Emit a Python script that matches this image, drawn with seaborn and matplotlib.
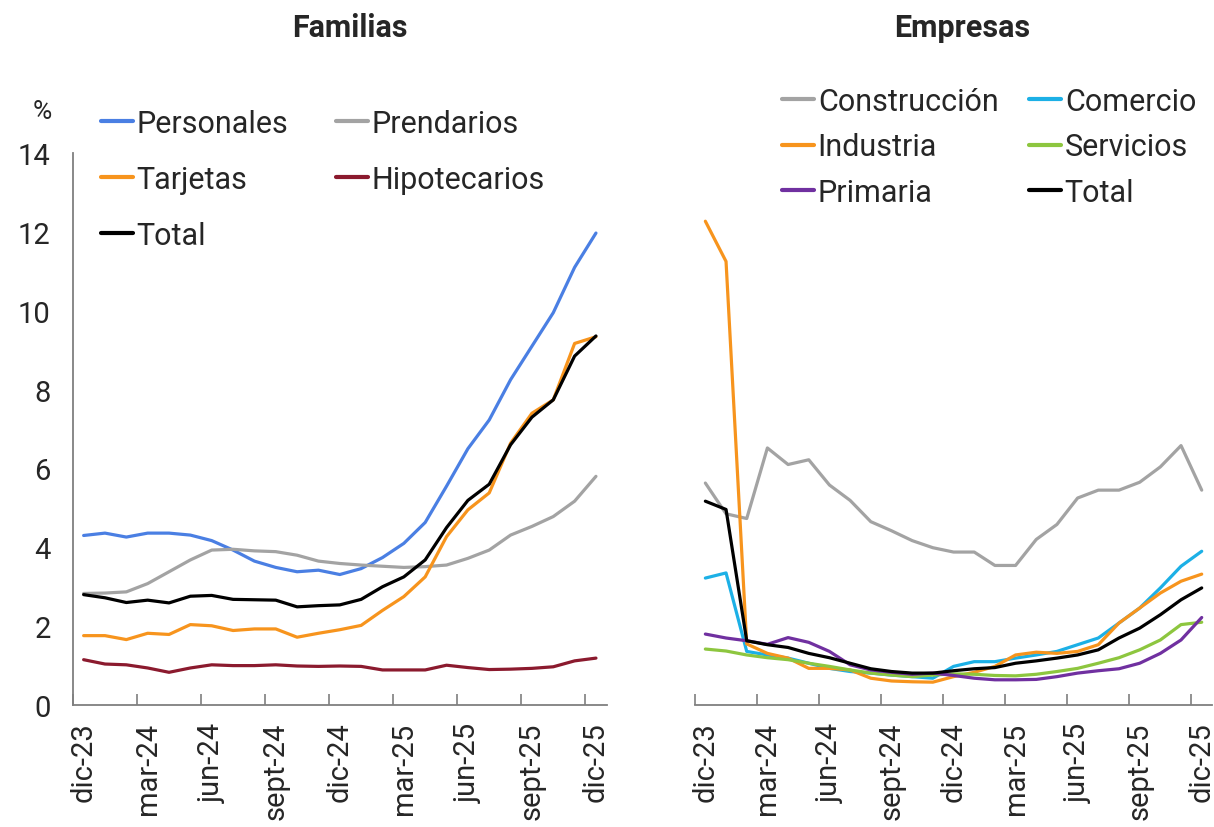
#!/usr/bin/env python3
"""Irregularidad de cartera: Familias y Empresas."""

from __future__ import annotations

import matplotlib

matplotlib.use("Agg")
import matplotlib.pyplot as plt
import pandas as pd
import seaborn as sns
from matplotlib.lines import Line2D
from matplotlib.ticker import FixedLocator


MONTHS = [
    "dic-23", "ene-24", "feb-24", "mar-24", "abr-24", "may-24", "jun-24",
    "jul-24", "ago-24", "sept-24", "oct-24", "nov-24", "dic-24", "ene-25",
    "feb-25", "mar-25", "abr-25", "may-25", "jun-25", "jul-25", "ago-25",
    "sept-25", "oct-25", "nov-25", "dic-25",
]
TICK_LABELS = ["dic-23", "mar-24", "jun-24", "sept-24", "dic-24",
               "mar-25", "jun-25", "sept-25", "dic-25"]

# Familias
personales = [4.30, 4.36, 4.26, 4.36, 4.36, 4.31, 4.17, 3.93, 3.65, 3.49,
              3.38, 3.42, 3.31, 3.46, 3.74, 4.10, 4.63, 5.55, 6.50, 7.23,
              8.25, 9.10, 9.95, 11.10, 11.97]
prendarios = [2.83, 2.84, 2.87, 3.08, 3.38, 3.68, 3.93, 3.95, 3.91, 3.89,
              3.80, 3.65, 3.59, 3.55, 3.52, 3.49, 3.51, 3.55, 3.72, 3.93,
              4.31, 4.53, 4.78, 5.17, 5.80]
tarjetas = [1.76, 1.76, 1.66, 1.82, 1.79, 2.04, 2.01, 1.89, 1.93, 1.93,
            1.72, 1.82, 1.91, 2.02, 2.40, 2.75, 3.25, 4.27, 4.95, 5.38,
            6.64, 7.40, 7.74, 9.17, 9.34]
hipotecarios = [1.15, 1.04, 1.02, 0.94, 0.83, 0.94, 1.02, 1.00, 1.00, 1.02,
                0.99, 0.98, 0.99, 0.98, 0.89, 0.89, 0.89, 1.01, 0.95, 0.90,
                0.91, 0.93, 0.97, 1.12, 1.19]
total_fam = [2.80, 2.72, 2.60, 2.66, 2.59, 2.76, 2.78, 2.68, 2.67, 2.66,
             2.49, 2.52, 2.54, 2.68, 3.00, 3.25, 3.68, 4.50, 5.19, 5.60,
             6.60, 7.30, 7.74, 8.85, 9.36]

# Empresas
construccion = [5.63, 4.85, 4.73, 6.52, 6.10, 6.22, 5.58, 5.19, 4.65, 4.42,
                4.17, 3.99, 3.88, 3.88, 3.54, 3.54, 4.20, 4.58, 5.25, 5.45,
                5.45, 5.65, 6.04, 6.58, 5.45]
comercio = [3.22, 3.35, 1.36, 1.27, 1.19, 1.06, 0.93, 0.85, 0.81, 0.76,
            0.72, 0.68, 0.98, 1.10, 1.10, 1.19, 1.27, 1.36, 1.53, 1.70,
            2.08, 2.46, 2.97, 3.52, 3.90]
industria = [12.27, 11.25, 1.55, 1.31, 1.19, 0.93, 0.93, 0.89, 0.68, 0.61,
             0.59, 0.58, 0.72, 0.83, 0.98, 1.27, 1.34, 1.31, 1.36, 1.53,
             2.08, 2.46, 2.84, 3.14, 3.32]
servicios = [1.42, 1.37, 1.27, 1.20, 1.15, 1.06, 0.98, 0.89, 0.81, 0.76,
             0.72, 0.76, 0.79, 0.78, 0.75, 0.74, 0.78, 0.85, 0.93, 1.06,
             1.20, 1.40, 1.65, 2.04, 2.10]
primaria = [1.80, 1.70, 1.63, 1.54, 1.71, 1.59, 1.36, 1.02, 0.89, 0.83,
            0.78, 0.81, 0.75, 0.68, 0.64, 0.64, 0.65, 0.72, 0.81, 0.87,
            0.92, 1.06, 1.31, 1.65, 2.22]
total_emp = [5.17, 4.96, 1.63, 1.53, 1.46, 1.31, 1.20, 1.06, 0.92, 0.85,
             0.81, 0.81, 0.87, 0.92, 0.95, 1.06, 1.12, 1.19, 1.27, 1.40,
             1.70, 1.95, 2.29, 2.67, 2.97]

FAM_SERIES = {
    "Personales": personales,
    "Prendarios": prendarios,
    "Tarjetas": tarjetas,
    "Hipotecarios": hipotecarios,
    "Total": total_fam,
}
EMP_SERIES = {
    "Construcción": construccion,
    "Comercio": comercio,
    "Industria": industria,
    "Servicios": servicios,
    "Primaria": primaria,
    "Total": total_emp,
}
FAM_COLORS = {
    "Personales": "#4a7fe3",
    "Prendarios": "#a3a3a3",
    "Tarjetas": "#f7941d",
    "Hipotecarios": "#8b1a2e",
    "Total": "#000000",
}
EMP_COLORS = {
    "Construcción": "#a3a3a3",
    "Comercio": "#1cb0e6",
    "Industria": "#f7941d",
    "Servicios": "#8dc63f",
    "Primaria": "#7030a0",
    "Total": "#000000",
}
FAM_LEGEND_ORDER = ["Personales", "Tarjetas", "Total", "Prendarios", "Hipotecarios"]
EMP_LEGEND_ORDER = ["Construcción", "Industria", "Primaria", "Comercio", "Servicios", "Total"]

FS = 21
SPINE = "#7f7f7f"
LW = 2.3


def to_long(series: dict) -> pd.DataFrame:
    frames = []
    for name, vals in series.items():
        frames.append(pd.DataFrame({"idx": range(len(vals)), "mes": MONTHS,
                                    "valor": vals, "Serie": name}))
    return pd.concat(frames, ignore_index=True)


def style_axis(ax, show_y: bool) -> None:
    ax.set_xlim(-0.5, 24.5)
    ax.set_ylim(0, 14)
    ax.set_xlabel("")
    ax.set_ylabel("")
    ax.grid(False)
    ax.xaxis.set_major_locator(FixedLocator([MONTHS.index(m) for m in TICK_LABELS]))
    ax.set_xticklabels(TICK_LABELS, rotation=90)
    ax.xaxis.set_minor_locator(FixedLocator([-0.5 + 3 * k for k in range(9)]))
    ax.tick_params(axis="x", which="major", length=0, pad=12, labelsize=FS)
    ax.tick_params(axis="x", which="minor", direction="in", length=8,
                   width=1.2, color=SPINE, bottom=True)
    for side in ("top", "right"):
        ax.spines[side].set_visible(False)
    ax.spines["bottom"].set_color(SPINE)
    ax.spines["bottom"].set_linewidth(1.3)
    if show_y:
        ax.set_yticks(range(0, 15, 2))
        ax.tick_params(axis="y", direction="in", length=8, width=1.2,
                       color=SPINE, labelsize=FS, pad=16)
        ax.spines["left"].set_color(SPINE)
        ax.spines["left"].set_linewidth(1.3)
    else:
        ax.spines["left"].set_visible(False)
        ax.set_yticks([])


def make_legend(fig, order, colors, anchor, spacing, colspace):
    handles = [Line2D([], [], color=colors[n], linewidth=3) for n in order]
    fig.legend(handles, order, loc="upper left", bbox_to_anchor=anchor,
               bbox_transform=fig.transFigure, ncol=2, frameon=False,
               fontsize=FS + 1, handlelength=1.05, handletextpad=0.12,
               labelspacing=spacing, columnspacing=colspace, borderpad=0,
               borderaxespad=0)


def main() -> None:
    sns.set_theme(style="white")
    plt.rcParams["font.family"] = ["Roboto", "DejaVu Sans"]

    fig = plt.figure(figsize=(12.14, 8.28), dpi=100)
    ax_f = fig.add_axes([0.0601, 0.1473, 0.4396, 0.6667])
    ax_e = fig.add_axes([0.5725, 0.1473, 0.4259, 0.6667])

    fam = to_long(FAM_SERIES)
    emp = to_long(EMP_SERIES)
    sns.lineplot(data=fam, x="idx", y="valor", hue="Serie", palette=FAM_COLORS,
                 linewidth=LW, legend=False, ax=ax_f)
    sns.lineplot(data=emp, x="idx", y="valor", hue="Serie", palette=EMP_COLORS,
                 linewidth=LW, legend=False, ax=ax_e)

    style_axis(ax_f, True)
    style_axis(ax_e, False)

    fig.text(350 / 1214, 1 - 28 / 828, "Familias", ha="center", va="center",
             fontsize=FS + 1, fontweight="bold")
    fig.text(962 / 1214, 1 - 28 / 828, "Empresas", ha="center", va="center",
             fontsize=FS + 1, fontweight="bold")
    fig.text(42 / 1214, 1 - 112 / 828, "%", ha="center", va="center", fontsize=19)

    make_legend(fig, FAM_LEGEND_ORDER, FAM_COLORS, (101 / 1214, 1 - 110 / 828), 0.88, 1.55)
    make_legend(fig, EMP_LEGEND_ORDER, EMP_COLORS, (782 / 1214, 1 - 88 / 828), 0.54, 1.0)

    fig.savefig("out.png", dpi=100)
    plt.close(fig)


if __name__ == "__main__":
    main()
